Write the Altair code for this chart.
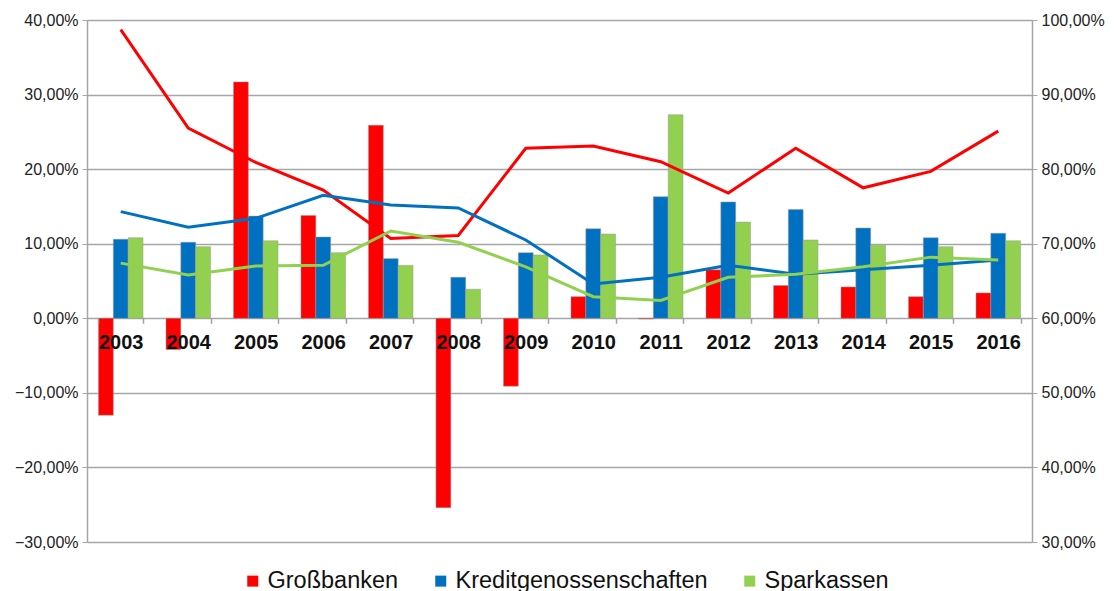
import altair as alt
import pandas as pd

years = [str(y) for y in range(2003, 2017)]
series = ["Großbanken", "Kreditgenossenschaften", "Sparkassen"]
colors = ["#FF0000", "#0070C0", "#92D050"]

# Bars (left axis, %)
bar_gross = [-13.0, -4.2, 31.7, 13.8, 25.9, -25.4, -9.1, 2.9, -0.1, 6.5, 4.4, 4.2, 2.9, 3.4]
bar_kredit = [10.6, 10.2, 13.7, 10.9, 8.0, 5.5, 8.8, 12.0, 16.3, 15.6, 14.6, 12.1, 10.8, 11.4]
bar_spark = [10.8, 9.6, 10.4, 8.8, 7.1, 3.9, 8.5, 11.3, 27.3, 12.9, 10.5, 9.8, 9.6, 10.4]

# Lines (right axis, %)
line_gross = [98.7, 85.5, 80.9, 77.2, 70.7, 71.1, 82.8, 83.1, 81.0, 76.8, 82.8, 77.5, 79.7, 85.1]
line_kredit = [74.3, 72.2, 73.4, 76.5, 75.2, 74.8, 70.5, 64.6, 65.5, 67.1, 65.9, 66.5, 67.1, 67.8]
line_spark = [67.4, 65.8, 67.0, 67.1, 71.7, 70.2, 66.9, 62.9, 62.4, 65.5, 65.9, 66.9, 68.2, 67.8]

bars = pd.DataFrame(
    [{"Jahr": y, "Gruppe": s, "Wert": v}
     for s, vals in zip(series, [bar_gross, bar_kredit, bar_spark])
     for y, v in zip(years, vals)]
)
lines = pd.DataFrame(
    [{"Jahr": y, "Gruppe": s, "Wert": v}
     for s, vals in zip(series, [line_gross, line_kredit, line_spark])
     for y, v in zip(years, vals)]
)

W, H = 945, 522
FONT = "Liberation Sans"
fmt = "replace(format(datum.value, '.2f'), '.', ',') + '%'"

x_enc = alt.X(
    "Jahr:N",
    sort=years,
    scale=alt.Scale(paddingInner=0.34, paddingOuter=0.17),
    axis=alt.Axis(
        title=None, orient="bottom", offset=-(H * 30 / 70), domain=False,
        tickBand="extent", tickSize=5, tickColor="#a0a0a0", tickWidth=1.5,
        labelFontSize=20, labelFontWeight="bold", labelColor="#111111",
        labelPadding=9, labelAngle=0, labelFont=FONT, grid=False, zindex=2,
    ),
)

bar_layer = alt.Chart(bars).mark_bar(stroke="#9a9a9a", strokeWidth=0.5).encode(
    x=x_enc,
    xOffset=alt.XOffset("Gruppe:N", sort=series, scale=alt.Scale(paddingInner=0, paddingOuter=0)),
    y=alt.Y(
        "Wert:Q",
        scale=alt.Scale(domain=[-30, 40], nice=False, zero=False),
        axis=alt.Axis(
            title=None, orient="left", values=list(range(-30, 41, 10)),
            labelExpr=fmt, labelFontSize=16, labelFont=FONT, labelColor="#222222",
            grid=True, gridColor="#a6a6a6", gridWidth=1.5,
            domainColor="#a6a6a6", domainWidth=1.5,
            tickColor="#a6a6a6", tickSize=5, labelPadding=4,
        ),
    ),
    color=alt.Color(
        "Gruppe:N",
        scale=alt.Scale(domain=series, range=colors),
        legend=alt.Legend(
            title=None, orient="none", direction="horizontal",
            legendX=154, legendY=549, symbolType="square", symbolSize=121,
            symbolStrokeWidth=0, labelFontSize=23.5, labelFont=FONT,
            labelColor="#111111", columnPadding=30, labelOffset=3,
            labelLimit=500,
        ),
    ),
)

line_layer = alt.Chart(lines).mark_line(strokeWidth=3).encode(
    x=alt.X("Jahr:N", sort=years),
    y=alt.Y(
        "Wert:Q",
        scale=alt.Scale(domain=[30, 100], nice=False, zero=False),
        axis=alt.Axis(
            title=None, orient="right", values=list(range(30, 101, 10)),
            labelExpr=fmt, labelFontSize=16, labelFont=FONT, labelColor="#222222",
            grid=False, domainColor="#a6a6a6", domainWidth=1.5,
            tickColor="#a6a6a6", tickSize=5, labelPadding=4,
        ),
    ),
    stroke=alt.Stroke("Gruppe:N", scale=alt.Scale(domain=series, range=colors), legend=None),
    detail="Gruppe:N",
)

chart = (
    alt.layer(bar_layer, line_layer)
    .resolve_scale(y="independent")
    .properties(
        width=W, height=H,
        autosize=alt.AutoSizeParams(type="none"),
        padding={"left": 79, "top": 12, "right": 78, "bottom": 50},
        background="white",
    )
    .configure_view(stroke=None)
)

chart.save("out.html", embed_options={"renderer": "svg", "actions": False})
